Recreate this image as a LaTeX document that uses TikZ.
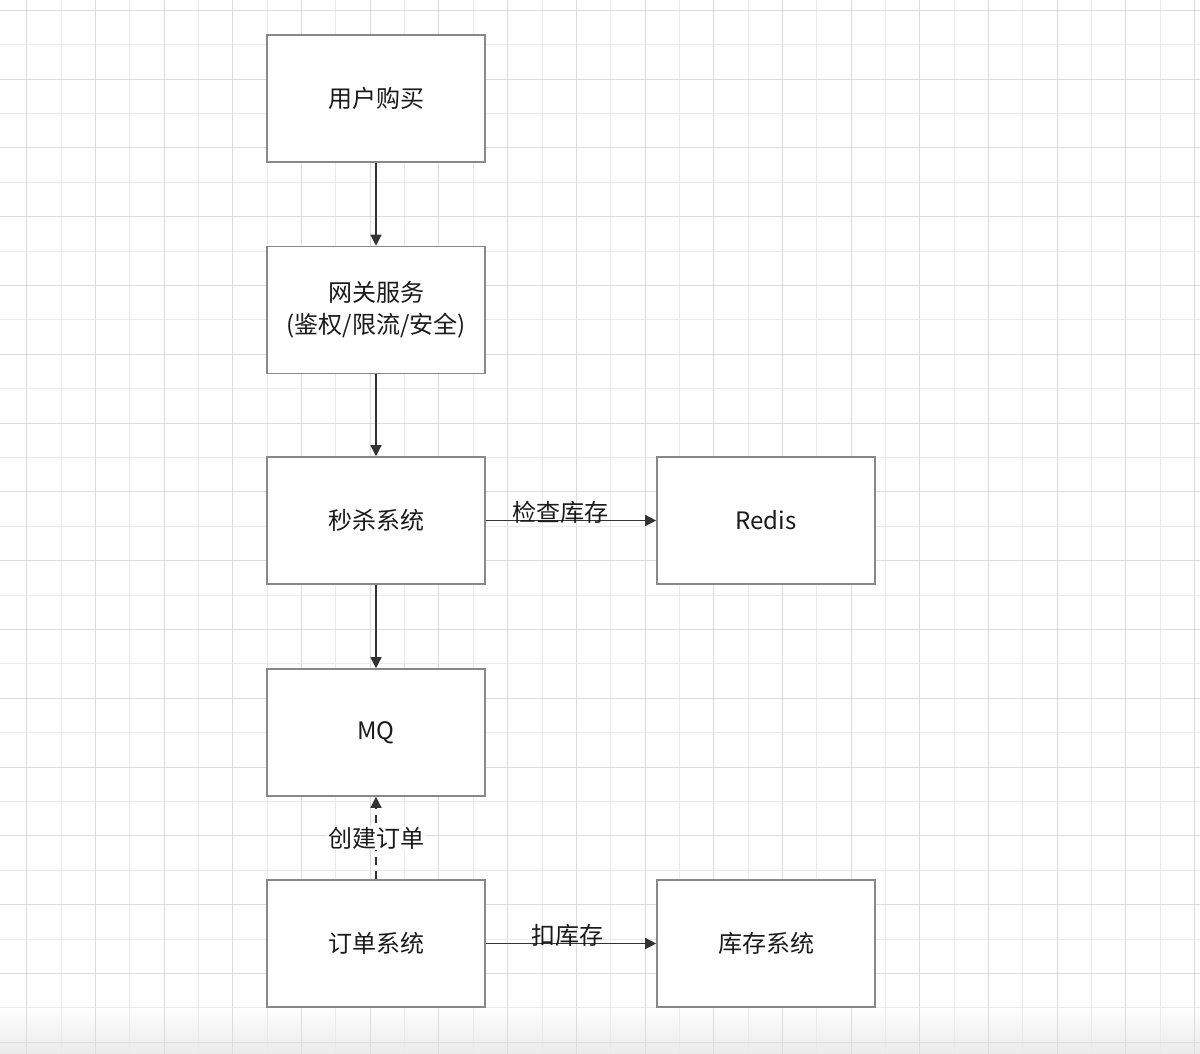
\documentclass[tikz,border=0pt]{standalone}
\usepackage{fontspec}
\setmainfont{Noto Sans CJK SC}
\usetikzlibrary{arrows.meta}
\definecolor{gridA}{HTML}{DCDCDC}
\definecolor{gridB}{HTML}{EAEAEA}
\definecolor{boxline}{HTML}{888888}
\definecolor{arrowc}{HTML}{333333}
\definecolor{txt}{HTML}{1A1A1A}
\tikzset{
  box/.style={draw=boxline, line width=1.6pt, fill=white, minimum width=218pt, minimum height=127pt, inner sep=0pt, align=center, text=txt, font=\fontsize{24}{32}\selectfont},
  conn/.style={draw=arrowc, line width=1.4pt, -{Triangle[length=11pt,width=11pt]}},
  lbl/.style={text=txt, font=\fontsize{24}{28}\selectfont, inner sep=1pt}
}
\begin{document}
\begin{tikzpicture}[x=1pt,y=-1pt]
\useasboundingbox (0,0) rectangle (1200,1054);
\fill[white] (0,0) rectangle (1200,1054);
\shade[top color=white, bottom color=black!8] (0,1005) rectangle (1200,1054);
\foreach \k in {0,...,34}{
  \pgfmathsetmacro{\xx}{26.7+34.35*\k}
  \pgfmathtruncatemacro{\ev}{mod(\k,2)}
  \ifnum\ev=0 \draw[gridA, line width=0.9pt] (\xx,0) -- (\xx,1054);
  \else \draw[gridB, line width=0.9pt] (\xx,0) -- (\xx,1054); \fi
}
\foreach \k in {0,...,30}{
  \pgfmathsetmacro{\yy}{10.3+34.4*\k}
  \pgfmathtruncatemacro{\ev}{mod(\k,2)}
  \ifnum\ev=0 \draw[gridA, line width=0.9pt] (0,\yy) -- (1200,\yy);
  \else \draw[gridB, line width=0.9pt] (0,\yy) -- (1200,\yy); \fi
}
\node[box] (buy) at (376,98.5) {用户购买};
\node[box] (gw) at (376,310) {网关服务\\(鉴权/限流/安全)};
\node[box] (seck) at (376,520.5) {秒杀系统};
\node[box] (mq) at (376,732.5) {MQ};
\node[box] (order) at (376,943.5) {订单系统};
\node[box] (redis) at (766,520.5) {Redis};
\node[box] (stock) at (766,943.5) {库存系统};
\draw[conn] (buy) -- (gw);
\draw[conn] (gw) -- (seck);
\draw[conn] (seck) -- (mq);
\draw[conn] (seck) -- node[lbl, pos=0.44, yshift=8pt] (l1) {检查库存} (redis);
\draw[conn, dash pattern=on 8pt off 6pt] (order) -- node[lbl, fill=white, pos=0.5] (l2) {创建订单} (mq);
\draw[conn] (order) -- node[lbl, pos=0.477, yshift=8pt] (l3) {扣库存} (stock);
\end{tikzpicture}
\end{document}
